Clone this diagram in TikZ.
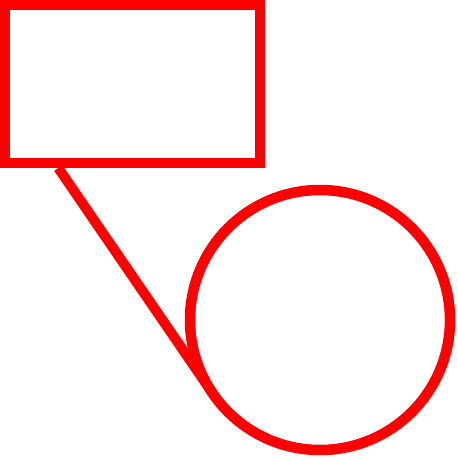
\documentclass[tikz,border=0pt]{standalone}
\usetikzlibrary{positioning,calc}
\usetikzlibrary{shapes.geometric}

\begin{document}
\begin{tikzpicture}
		\useasboundingbox (0,0) rectangle (9.16,-9.16);

		\node[draw=red,line width=0.2cm,minimum width=5.1cm,minimum height=3.16cm,inner sep=0] (rect) at (2.65,-1.68) {};
		\node[draw=red,line width=0.21cm,circle,minimum size=5.2cm,inner sep=0,outer sep=0] (circ) at (6.4,-6.4) {};

		\coordinate (foot) at ($(rect.south west)!0.22!(rect.south east)$);
		\draw [red,line width=0.2cm] (foot) -- (tangent cs:node=circ,point={(foot)},solution=1);
	\end{tikzpicture}
\end{document}
